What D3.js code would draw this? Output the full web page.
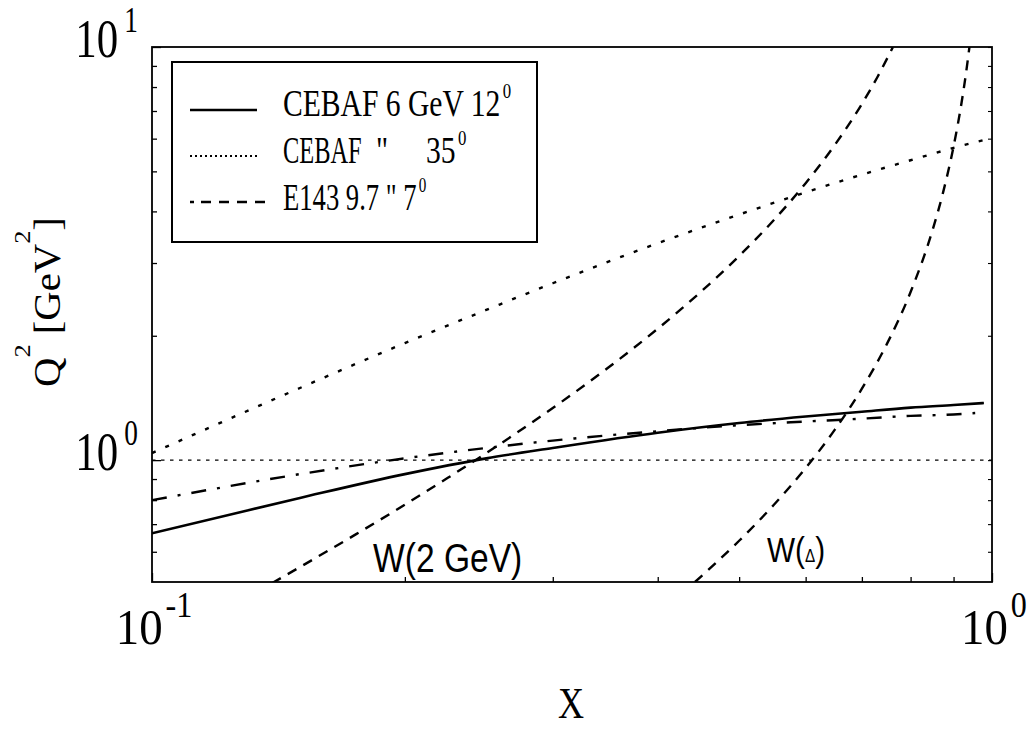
<!DOCTYPE html>
<html>
<head>
<meta charset="utf-8">
<script src="https://cdn.jsdelivr.net/npm/d3@7"></script>
<style>
  html, body { margin: 0; padding: 0; background: #fff; }
  svg { display: block; }
</style>
</head>
<body>
<svg id="chart" width="1029" height="729"></svg>
<script>
// ticks
const xTickVals = [0.1, 0.2, 0.3, 0.4, 0.5, 0.6, 0.7, 0.8, 0.9, 1]
const yTickVals = [0.6, 0.7, 0.8, 0.9, 1, 2, 3, 4, 5, 6, 7, 8, 9, 10]
const xMajor = [0.1, 1]
const xMajorExp = ["-1", "0"]
const yMajor = [1, 10]
const yMajorExp = ["0", "1"]

// CEBAF 6 GeV 12 deg (solid)
const cebaf12X  = [0.1, 0.15, 0.2, 0.25, 0.3, 0.4, 0.5, 0.6, 0.7, 0.8, 0.9, 0.978]
const cebaf12Q2 = [0.665, 0.81, 0.925, 1.01, 1.07, 1.165, 1.23, 1.275, 1.31, 1.34, 1.36, 1.375]

// CEBAF 35 deg (dotted)
const cebaf35X  = [0.1, 0.15, 0.2, 0.25, 0.3, 0.4, 0.5, 0.6, 0.7, 0.8, 0.9, 0.976]
const cebaf35Q2 = [1.04, 1.495, 1.92, 2.31, 2.68, 3.35, 3.93, 4.45, 4.91, 5.32, 5.70, 5.95]

// E143 9.7 GeV 7 deg (dash-dot)
const e143X  = [0.1, 0.15, 0.2, 0.25, 0.3, 0.4, 0.5, 0.6, 0.7, 0.8, 0.9, 0.955]
const e143Q2 = [0.80, 0.925, 1.01, 1.07, 1.115, 1.175, 1.215, 1.24, 1.26, 1.28, 1.29, 1.30]

// W = 2 GeV (dashed)
const w2X  = [0.139, 0.15, 0.175, 0.2, 0.225, 0.25, 0.3, 0.35, 0.4, 0.45, 0.5, 0.55, 0.6, 0.65, 0.7, 0.73, 0.762]
const w2Q2 = [0.504, 0.551, 0.662, 0.78, 0.906, 1.04, 1.337, 1.68, 2.08, 2.553, 3.12, 3.813, 4.68, 5.794, 7.28, 8.436, 9.99]

// W = Delta (dashed)
const wDX  = [0.443, 0.47, 0.5, 0.55, 0.6, 0.65, 0.7, 0.75, 0.8, 0.85, 0.875, 0.9, 0.92, 0.93, 0.94]
const wDQ2 = [0.507, 0.566, 0.638, 0.78, 0.957, 1.185, 1.489, 1.914, 2.552, 3.615, 4.466, 5.742, 7.337, 8.476, 9.995]

// Q^2 = 1 reference
const refX  = [0.1, 1]
const refQ2 = [1, 1]

const legendLabels = ["CEBAF 6 GeV 12", "CEBAF", "E143 9.7 \" 7"]

const serif = "'Liberation Serif','Times New Roman',Times,serif"
const sans = "'Liberation Sans',Arial,Helvetica,sans-serif"

const plot = {left: 152, right: 992, top: 47, bottom: 582}
const x = d3.scaleLog().domain([0.1, 1]).range([plot.left, plot.right])
const y = d3.scaleLog().domain([0.507, 10]).range([plot.bottom, plot.top])

const svg = d3.select("#chart")
svg.append("rect").attr("width", 1029).attr("height", 729).attr("fill", "#fff")

svg.append("defs").append("clipPath").attr("id", "clip")
  .append("rect")
  .attr("x", plot.left).attr("y", plot.top)
  .attr("width", plot.right - plot.left).attr("height", plot.bottom - plot.top)

const zip = (xs, ys) => xs.map((v, i) => [v, ys[i]])
const line = d3.line().x(d => x(d[0])).y(d => y(d[1])).curve(d3.curveMonotoneX)

const series = [
  {data: zip(refX, refQ2), width: 1.4, dash: "3.5,5.5"},
  {data: zip(cebaf35X, cebaf35Q2), width: 2.4, dash: "4,10.5"},
  {data: zip(e143X, e143Q2), width: 2.4, dash: "15,11,3,11"},
  {data: zip(cebaf12X, cebaf12Q2), width: 2.6, dash: null},
  {data: zip(w2X, w2Q2), width: 2.4, dash: "10,8"},
  {data: zip(wDX, wDQ2), width: 2.4, dash: "10,8"},
]

const curves = svg.append("g").attr("clip-path", "url(#clip)")
series.forEach(s => {
  curves.append("path")
    .attr("d", line(s.data))
    .attr("fill", "none")
    .attr("stroke", "#000")
    .attr("stroke-width", s.width)
    .attr("stroke-dasharray", s.dash)
})

// inward ticks
const bottomAxis = svg.append("g").attr("transform", `translate(0,${plot.bottom})`)
  .call(d3.axisBottom(x).tickValues(xTickVals).tickSize(-5).tickFormat(""))
bottomAxis.select(".domain").remove()
bottomAxis.selectAll(".tick line").attr("y2", d => xMajor.includes(d) ? -9 : -5).attr("stroke-width", 1.3)

const leftAxis = svg.append("g").attr("transform", `translate(${plot.left},0)`)
  .call(d3.axisLeft(y).tickValues(yTickVals).tickSize(-5).tickFormat(""))
leftAxis.select(".domain").remove()
leftAxis.selectAll(".tick line").attr("x2", d => yMajor.includes(d) ? 9 : 5).attr("stroke-width", 1.3)

const rightAxis = svg.append("g").attr("transform", `translate(${plot.right},0)`)
  .call(d3.axisRight(y).tickValues(yTickVals).tickSize(-4).tickFormat(""))
rightAxis.select(".domain").remove()
rightAxis.selectAll(".tick line").attr("stroke-width", 1.1)

svg.append("rect")
  .attr("x", plot.left).attr("y", plot.top)
  .attr("width", plot.right - plot.left).attr("height", plot.bottom - plot.top)
  .attr("fill", "none").attr("stroke", "#000").attr("stroke-width", 1.8)

// text helpers (the original lettering is narrow, so squeeze horizontally)
function squeezed(px, py, sx, anchor, family, size, rot = 0) {
  return svg.append("text")
    .attr("transform", `translate(${px},${py}) rotate(${rot}) scale(${sx},1)`)
    .attr("text-anchor", anchor)
    .attr("font-family", family)
    .attr("font-size", size)
    .attr("fill", "#000")
}

yMajor.forEach((v, i) => {
  const t = squeezed(138, y(v) + 9.5, 0.78, "end", serif, 55)
  t.append("tspan").text("10")
  t.append("tspan").attr("dx", 8).attr("dy", -25).attr("font-size", 35).text(yMajorExp[i])
})

xMajor.forEach((v, i) => {
  const t = squeezed(x(v) + 2, 644, 0.92, "middle", serif, 51)
  t.append("tspan").text("10")
  t.append("tspan").attr("dx", 3).attr("dy", -27).attr("font-size", 35).text(xMajorExp[i])
})

// axis titles
squeezed(571, 718, 0.82, "middle", serif, 44).text("X")

const yt = squeezed(60, 302, 1.1, "middle", serif, 37, -90)
yt.append("tspan").text("Q")
yt.append("tspan").attr("dy", -30).attr("font-size", 24).text("2")
yt.append("tspan").attr("dy", 30).text(" [GeV")
yt.append("tspan").attr("dy", -30).attr("font-size", 24).text("2")
yt.append("tspan").attr("dy", 30).text("]")

// curve labels
squeezed(373, 572, 0.84, "start", sans, 40).text("W(2 GeV)")
const wd = squeezed(767, 562, 0.85, "start", sans, 35)
wd.append("tspan").text("W(")
wd.append("tspan").attr("font-size", 18).text("\u0394")
wd.append("tspan").text(")")

// legend
svg.append("rect")
  .attr("x", 172).attr("y", 62).attr("width", 365).attr("height", 180)
  .attr("fill", "#fff").attr("stroke", "#000").attr("stroke-width", 2)

const legendSamples = [
  {y: 110, x2: 257, width: 2.6, dash: null},
  {y: 156, x2: 257, width: 2.2, dash: "2,3"},
  {y: 202, x2: 265, width: 2.4, dash: "4,7,10,8,10,8,10,8,12"},
]
legendSamples.forEach(s => {
  svg.append("line")
    .attr("x1", 190).attr("x2", s.x2).attr("y1", s.y).attr("y2", s.y)
    .attr("stroke", "#000").attr("stroke-width", s.width)
    .attr("stroke-dasharray", s.dash)
})

const l1 = squeezed(283, 116, 0.8, "start", serif, 37)
l1.append("tspan").text(legendLabels[0])
l1.append("tspan").attr("dx", 3).attr("dy", -18).attr("font-size", 21).text("0")

const l2 = squeezed(283, 163, 0.66, "start", serif, 37)
l2.append("tspan").text(legendLabels[1])
squeezed(376, 163, 0.8, "start", serif, 37).text("\"")
const l2b = squeezed(426, 163, 0.8, "start", serif, 37)
l2b.append("tspan").text("35")
l2b.append("tspan").attr("dx", 3).attr("dy", -18).attr("font-size", 21).text("0")

const l3 = squeezed(283, 210, 0.72, "start", serif, 37)
l3.append("tspan").text(legendLabels[2])
l3.append("tspan").attr("dx", 3).attr("dy", -18).attr("font-size", 21).text("0")
</script>
</body>
</html>
